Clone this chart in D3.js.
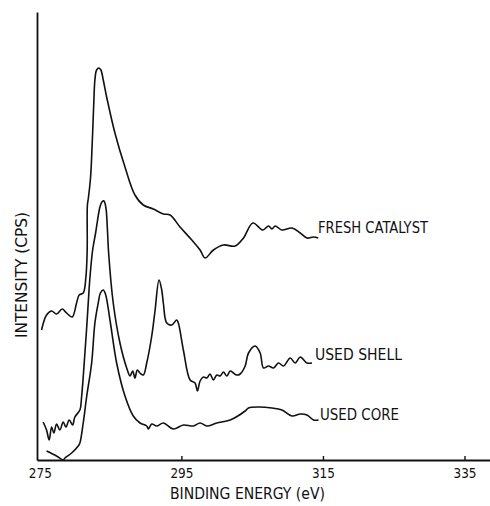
<!DOCTYPE html>
<html>
<head>
<meta charset="utf-8">
<script src="https://cdn.jsdelivr.net/npm/d3@7"></script>
<style>
  html, body { margin: 0; padding: 0; background: #fff; }
  svg { display: block; }
  text { font-family: "DejaVu Sans Condensed", "DejaVu Sans", sans-serif; fill: #111; }
</style>
</head>
<body>
<svg id="chart" width="490" height="506"></svg>
<script>
// ---- data (binding energy in eV, intensity in arbitrary counts) ----
const xTickValues = [275, 295, 315, 335];
const xTickLabels = ["275", "295", "315", "335"];
const seriesNames = ["FRESH CATALYST", "USED SHELL", "USED CORE"];

const freshEnergy = [275.24,275.95,276.66,277.36,278.16,278.78,279.57,280.19,280.56,281.13,281.51,281.69,281.72,281.86,282.17,282.32,282.46,282.64,282.78,283.02,283.35,283.63,283.96,284.44,285.61,287.03,288.44,289.62,291.03,292.45,293.40,294.81,296.47,297.64,298.35,299.52,300.94,302.59,303.77,305.10,306.51,307.31,307.79,308.25,309.20,310.62,311.79,312.74,313.67,314.34];
const freshIntensity = [130,145,149,146,151,147,143,157,165,167,183,210,255,262,283,303,327,360,380,390,392,390,380,363,327,293,265,255,251,246,245,233,220,210,202,210,215,214,222,237,230,234,231,234,230,232,227,222,223,222];

const shellEnergy = [275.47,275.95,276.32,276.66,276.98,277.36,277.83,278.30,278.68,279.15,279.63,279.95,280.66,280.90,281.37,281.69,281.98,282.17,282.46,282.88,283.49,283.77,284.06,284.34,284.55,284.72,285.37,286.32,287.27,287.74,288.12,288.44,288.77,289.15,289.62,290.10,290.81,291.27,291.84,292.22,292.45,292.93,293.64,294.34,294.57,295.28,296.23,296.93,297.26,297.64,298.10,298.59,299.05,299.52,300.00,300.47,300.95,301.42,301.90,302.35,302.80,303.30,304.01,304.48,305.42,306.13,306.60,307.31,308.01,308.72,309.43,310.38,311.08,311.79,312.74,313.45];
const shellIntensity = [38,30,20,33,27,36,30,38,33,40,35,43,50,63,107,140,173,190,210,227,253,258,259,252,230,207,157,117,92,84,89,82,90,87,85,97,124,149,180,170,157,137,135,140,137,110,80,77,69,79,83,82,86,80,85,84,88,84,89,87,85,86,94,107,114,107,92,94,92,97,94,102,97,103,97,97];

const coreEnergy = [275.95,277.36,278.30,278.54,279.49,280.42,280.66,281.13,281.61,282.32,282.78,283.25,283.56,283.96,284.27,284.91,285.85,287.03,288.20,289.15,290.10,290.33,290.81,291.51,292.45,293.86,295.28,296.69,297.64,298.59,300.00,301.89,304.01,304.48,305.89,307.79,309.20,310.62,311.79,312.74,313.67,314.38];
const coreIntensity = [9,4,0,2,7,14,17,37,63,97,137,157,167,170,166,140,97,64,44,37,34,31,36,34,37,31,35,34,37,34,37,40,49,52,53,52,50,44,46,45,40,40];

// ---- layout ----
const svg = d3.select("#chart");
const x = d3.scaleLinear().domain([274.6, 338.6]).range([37, 490]);
const y = d3.scaleLinear().domain([0, 448]).range([460, 12]);

// axes
const xAxis = d3.axisBottom(x)
  .tickValues(xTickValues)
  .tickFormat((d, i) => xTickLabels[i])
  .tickSizeInner(-4)
  .tickSizeOuter(0);
const gx = svg.append("g").attr("transform", "translate(0,460)").call(xAxis);
gx.select(".domain").attr("stroke", "#111").attr("stroke-width", 1.8);
gx.selectAll(".tick line").attr("stroke", "#111").attr("stroke-width", 1.4)
  .filter(d => d === 275).remove();
gx.selectAll(".tick text")
  .attr("y", 18).attr("dy", 0)
  .attr("font-size", 14)
  .attr("textLength", 23).attr("lengthAdjust", "spacingAndGlyphs")
  .style("font-family", "'DejaVu Sans Condensed', sans-serif")
  .attr("fill", "#111");

const yAxis = d3.axisLeft(y).tickValues([]).tickSizeOuter(0);
const gy = svg.append("g").attr("transform", "translate(37,0)").call(yAxis);
gy.select(".domain").attr("stroke", "#111").attr("stroke-width", 1.8);

// axis titles
svg.append("text")
  .attr("x", 170).attr("y", 499)
  .attr("font-size", 15)
  .attr("textLength", 155).attr("lengthAdjust", "spacingAndGlyphs")
  .text("BINDING ENERGY (eV)");

svg.append("text")
  .attr("transform", "translate(27,338) rotate(-90)")
  .attr("font-size", 16)
  .attr("textLength", 126).attr("lengthAdjust", "spacingAndGlyphs")
  .text("INTENSITY (CPS)");

// curves
const line = d3.line()
  .x(d => x(d[0]))
  .y(d => y(d[1]))
  .curve(d3.curveCatmullRom.alpha(0.5));

const series = [
  { e: freshEnergy, v: freshIntensity, label: seriesNames[0], lx: 318, ly: 233, lw: 110 },
  { e: shellEnergy, v: shellIntensity, label: seriesNames[1], lx: 315, ly: 360, lw: 87 },
  { e: coreEnergy,  v: coreIntensity,  label: seriesNames[2], lx: 320, ly: 420, lw: 79 }
];

series.forEach(s => {
  const pts = s.e.map((e, i) => [e, s.v[i]]);
  svg.append("path")
    .datum(pts)
    .attr("d", line)
    .attr("fill", "none")
    .attr("stroke", "#111")
    .attr("stroke-width", 1.6)
    .attr("stroke-linejoin", "round");
  svg.append("text")
    .attr("x", s.lx).attr("y", s.ly)
    .attr("font-size", 15)
    .attr("textLength", s.lw).attr("lengthAdjust", "spacingAndGlyphs")
    .text(s.label);
});
</script>
</body>
</html>
